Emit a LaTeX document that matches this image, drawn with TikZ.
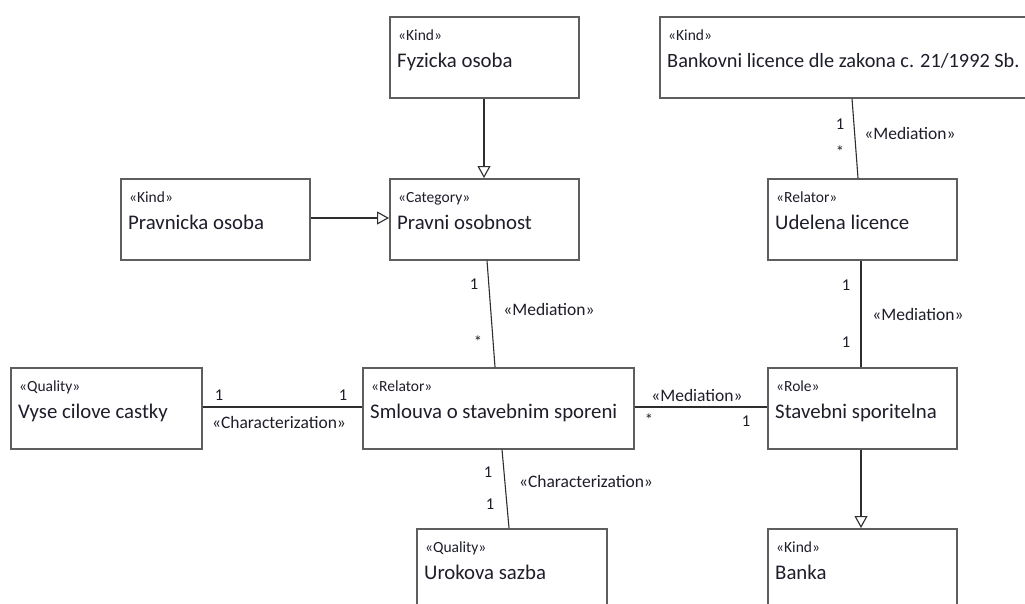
\documentclass[tikz,border=0pt]{standalone}
\usepackage{fontspec}
\setmainfont{Carlito}
\usetikzlibrary{arrows.meta}
\definecolor{boxline}{HTML}{5E5E5E}
\definecolor{wire}{HTML}{2E2E2E}
\definecolor{ink}{HTML}{1E1E2A}
\tikzset{
  umlbox/.style={draw=boxline, line width=1.5pt, fill=white, rectangle,
    anchor=north west, inner sep=0pt, minimum width=189pt, minimum height=81pt},
  stereo/.style={anchor=base west, inner sep=0pt, text=ink, font=\fontsize{15.5}{17}\selectfont},
  cname/.style={anchor=base west, inner sep=0pt, text=ink, font=\fontsize{20.8}{23}\selectfont},
  elabel/.style={inner sep=0pt, text=ink, font=\fontsize{17.5}{19}\selectfont},
  mult/.style={inner sep=0pt, text=ink, font=\fontsize{16.5}{18}\selectfont},
  assoc/.style={draw=wire, line width=1.1pt},
  general/.style={draw=wire, line width=1.1pt,
    -{Triangle[open, length=12pt, width=13pt, fill=white]}},
}
\begin{document}
\begin{tikzpicture}[x=1pt, y=-1pt]
\useasboundingbox[fill=white] (0,0) rectangle (1025,603);

% classes
\node[umlbox] (fyz) at (389,16) {};
\node[umlbox, minimum width=390pt] (lic) at (659,16) {};
\node[umlbox] (pra) at (120,178) {};
\node[umlbox] (pos) at (389,178) {};
\node[umlbox] (ude) at (767,178) {};
\node[umlbox, minimum width=191pt] (vys) at (10,367) {};
\node[umlbox, minimum width=271pt] (sml) at (362,367) {};
\node[umlbox] (sta) at (767,367) {};
\node[umlbox, minimum width=190pt] (uro) at (416,528) {};
\node[umlbox] (ban) at (767,528) {};

% stereotypes and names
\foreach \b/\s/\n in {fyz/Kind/Fyzicka osoba,
                      pra/Kind/Pravnicka osoba,
                      pos/Category/Pravni osobnost,
                      ude/Relator/Udelena licence,
                      vys/Quality/Vyse cilove castky,
                      sml/Relator/Smlouva o stavebnim sporeni,
                      sta/Role/Stavebni sporitelna,
                      uro/Quality/Urokova sazba,
                      ban/Kind/Banka}{
  \node[stereo] (\b-st) at ([xshift=9pt, yshift=-24pt]\b.north west) {«\s»};
  \node[cname] (\b-nm) at ([xshift=8pt, yshift=-51pt]\b.north west) {\n};
}
\node[stereo] (lic-st) at ([xshift=9pt, yshift=-24pt]lic.north west) {«Kind»};
\node[cname, font=\fontsize{20.3}{23}\selectfont] (lic-nm)
  at ([xshift=8pt, yshift=-51pt]lic.north west)
  {Bankovni licence dle zakona c. 21/1992 Sb.};

% generalizations
\draw[general] ([xshift=95pt]fyz.south west) -- ([xshift=95pt]pos.north west);
\draw[general] ([yshift=-40pt]pra.north east) -- ([yshift=-40pt]pos.north west);
\draw[general] ([xshift=94pt]sta.south west) -- ([xshift=94pt]ban.north west);

% associations
\draw[assoc] ([xshift=98pt]pos.south west) -- ([xshift=133pt]sml.north west);
\draw[assoc] ([xshift=193pt]lic.south west) -- ([xshift=91pt]ude.north west);
\draw[assoc] ([xshift=94pt]ude.south west) -- ([xshift=94pt]sta.north west);
\draw[assoc] ([yshift=-40pt]vys.north east) -- ([yshift=-40pt]sml.north west);
\draw[assoc] ([yshift=-40pt]sml.north east) -- ([yshift=-40pt]sta.north west);
\draw[assoc] ([xshift=140pt]sml.south west) -- ([xshift=93pt]uro.north west);

% association labels
\node[mult] (m1) at (474,284) {1};
\node[mult] (m2) at (478,342) {*};
\node[elabel] (l1) at (549,309) {«Mediation»};

\node[mult] (m3) at (840,124) {1};
\node[mult] (m4) at (840,152) {*};
\node[elabel] (l2) at (910,133) {«Mediation»};

\node[mult] (m5) at (846,285) {1};
\node[mult] (m6) at (846,342) {1};
\node[elabel] (l3) at (918,314) {«Mediation»};

\node[mult] (m7) at (219,395) {1};
\node[mult] (m8) at (343,395) {1};
\node[elabel] (l4) at (279,422) {«Characterization»};

\node[elabel] (l5) at (697,395) {«Mediation»};
\node[mult] (m9) at (649,420) {*};
\node[mult] (m10) at (746,421) {1};

\node[mult] (m11) at (488,472) {1};
\node[mult] (m12) at (490,504) {1};
\node[elabel] (l6) at (586,481) {«Characterization»};
\end{tikzpicture}
\end{document}
